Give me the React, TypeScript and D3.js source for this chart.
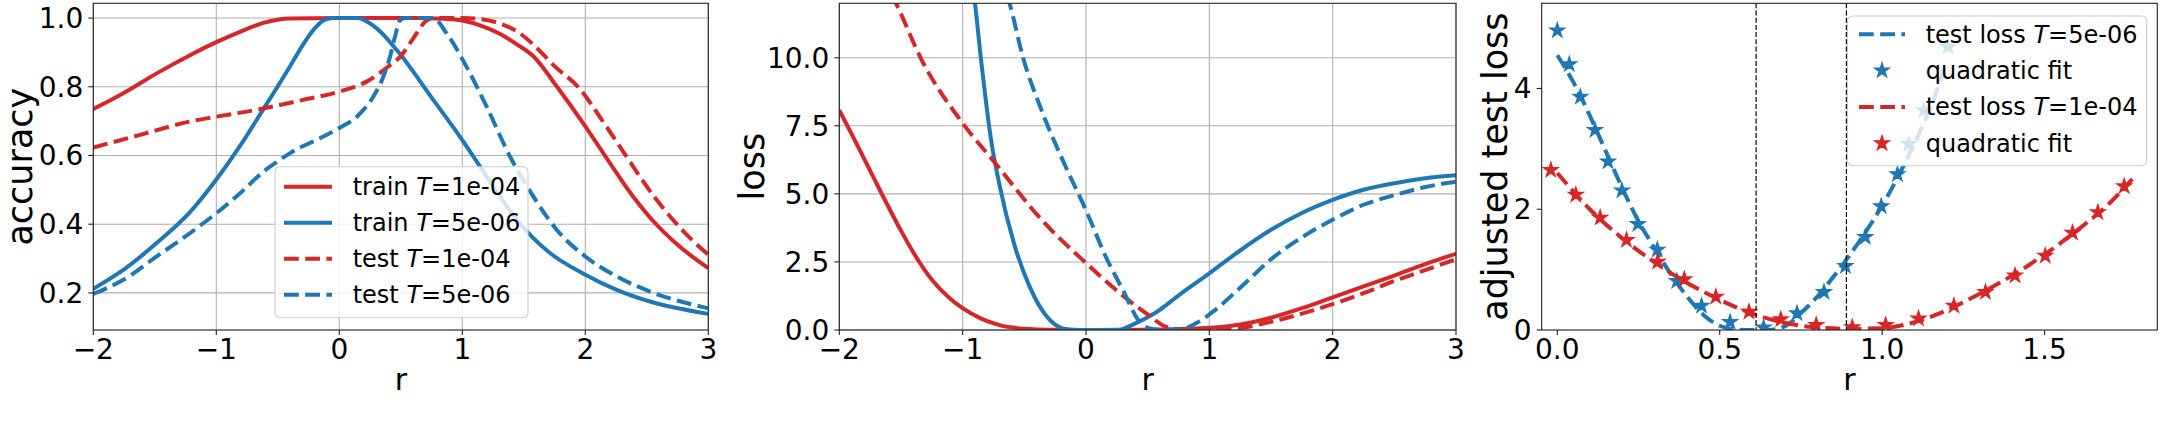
import React from "react";
import * as d3 from "d3";

const RED = "#d62728";
const BLUE = "#1f77b4";
const FONT = "'DejaVu Sans', sans-serif";

// ---------- Panel 1: accuracy vs r ----------
const accTrainHiT_x = [-2, -1.756, -1.485, -1.214, -1, -0.807, -0.617, -0.4, 0, 0.6, 0.85, 1.0, 1.15, 1.3, 1.45, 1.58, 1.77, 2.0, 2.15, 2.39, 2.55, 2.75, 3];
const accTrainHiT_y = [0.735, 0.781, 0.839, 0.892, 0.93, 0.96, 0.986, 0.999, 1, 1, 0.998, 0.993, 0.978, 0.955, 0.922, 0.888, 0.8, 0.685, 0.605, 0.48, 0.41, 0.34, 0.272];

const accTrainLoT_x = [-2, -1.756, -1.485, -1.214, -1, -0.807, -0.617, -0.4, -0.3, -0.2, -0.12, -0.05, 0, 0.142, 0.304, 0.467, 0.764, 1.0, 1.198, 1.442, 1.713, 2.0, 2.255, 2.526, 3];
const accTrainLoT_y = [0.212, 0.267, 0.345, 0.435, 0.53, 0.628, 0.735, 0.86, 0.92, 0.97, 0.995, 1, 1, 1, 0.97, 0.907, 0.762, 0.645, 0.539, 0.413, 0.316, 0.253, 0.209, 0.175, 0.139];

const accTestHiT_x = [-2, -1.62, -1.214, -1, -0.672, -0.293, 0, 0.222, 0.412, 0.494, 0.6, 0.7, 0.76, 1.0, 1.17, 1.3, 1.45, 1.6, 1.75, 1.94, 2.17, 2.32, 2.56, 2.72, 2.85, 3];
const accTestHiT_y = [0.623, 0.66, 0.699, 0.713, 0.733, 0.762, 0.786, 0.815, 0.863, 0.887, 0.94, 0.99, 1, 1, 0.996, 0.985, 0.96, 0.915, 0.86, 0.8, 0.685, 0.605, 0.48, 0.41, 0.36, 0.311];

const accTestLoT_x = [-2, -1.756, -1.485, -1.214, -1, -0.807, -0.617, -0.5, -0.4, -0.13, 0, 0.142, 0.276, 0.358, 0.412, 0.453, 0.494, 0.54, 0.764, 0.873, 1.035, 1.198, 1.388, 1.577, 1.767, 2.0, 2.255, 2.526, 3];
const accTestLoT_y = [0.197, 0.238, 0.306, 0.374, 0.432, 0.49, 0.553, 0.583, 0.607, 0.655, 0.68, 0.713, 0.771, 0.829, 0.887, 0.946, 0.994, 1, 1, 0.955, 0.858, 0.742, 0.597, 0.481, 0.384, 0.306, 0.248, 0.204, 0.155];

// ---------- Panel 2: loss vs r ----------
const lossTrainHiT_x = [-2, -1.9, -1.75, -1.65, -1.5, -1.4, -1.25, -1.1, -1.0, -0.85, -0.7, -0.5, -0.25, 0, 0.5, 1, 1.25, 1.5, 1.75, 2, 2.25, 2.5, 2.75, 3];
const lossTrainHiT_y = [8.07, 7.2, 5.85, 4.95, 3.65, 2.85, 1.85, 1.15, 0.8, 0.42, 0.18, 0.05, 0.01, 0, 0.01, 0.08, 0.2, 0.45, 0.8, 1.2, 1.6, 2.0, 2.42, 2.8];

const lossTrainLoT_x = [-1.0, -0.9, -0.85, -0.77, -0.7, -0.585, -0.47, -0.36, -0.25, -0.14, 0, 0.27, 0.38, 0.57, 0.76, 1, 1.25, 1.5, 1.75, 2, 2.25, 2.5, 2.75, 3];
const lossTrainLoT_y = [15, 12, 9.9, 7.0, 5.3, 3.2, 1.73, 0.76, 0.2, 0.02, 0, 0.01, 0.2, 0.65, 1.3, 2.08, 2.92, 3.68, 4.3, 4.78, 5.15, 5.39, 5.57, 5.68];

const lossTestHiT_x = [-2, -1.75, -1.54, -1.33, -1, -0.73, -0.36, 0, 0.27, 0.5, 0.66, 0.8, 1, 1.25, 1.5, 1.75, 2, 2.25, 2.5, 2.75, 3];
const lossTestHiT_y = [15.7, 13.8, 12, 9.9, 7.6, 6.1, 4.05, 2.46, 1.37, 0.57, 0.1, 0.02, 0.02, 0.08, 0.3, 0.6, 0.95, 1.35, 1.8, 2.2, 2.6];

const lossTestLoT_x = [-0.7, -0.62, -0.51, -0.36, -0.175, 0, 0.16, 0.31, 0.42, 0.5, 0.6, 0.76, 0.9, 1, 1.25, 1.5, 1.75, 2, 2.25, 2.5, 2.75, 3];
const lossTestLoT_y = [13, 12, 10, 8.07, 6.1, 4.4, 2.7, 1.37, 0.39, 0.08, 0.01, 0.02, 0.27, 0.57, 1.55, 2.6, 3.4, 4.05, 4.6, 4.95, 5.25, 5.45];

// ---------- Panel 3: adjusted test loss ----------
const adjLoT_x = [0, 0.05, 0.1, 0.15, 0.2, 0.25, 0.3, 0.35, 0.4, 0.45, 0.5, 0.55, 0.6, 0.65, 0.7, 0.75, 0.8, 0.85, 0.9, 0.95, 1.0, 1.05, 1.1, 1.15, 1.2];
const adjLoT_y = [4.55, 4.1, 3.55, 2.95, 2.35, 1.8, 1.35, 0.92, 0.55, 0.25, 0.07, 0.01, 0, 0, 0.06, 0.28, 0.55, 0.88, 1.24, 1.63, 2.06, 2.55, 3.1, 3.7, 4.45];
const fitLoT_x = [0, 0.037, 0.071, 0.116, 0.156, 0.199, 0.248, 0.308, 0.368, 0.444, 0.532, 0.635, 0.738, 0.821, 0.887, 0.948, 0.997, 1.047, 1.082, 1.128, 1.203];
const fitLoT_y = [4.96, 4.4, 3.86, 3.31, 2.79, 2.31, 1.755, 1.33, 0.81, 0.4, 0.13, 0.04, 0.275, 0.63, 1.06, 1.54, 2.05, 2.58, 3.08, 3.64, 4.69];

const adjHiT_x = [0, 0.1, 0.2, 0.3, 0.4, 0.5, 0.6, 0.7, 0.8, 0.9, 1.0, 1.1, 1.2, 1.3, 1.4, 1.5, 1.6, 1.7, 1.77];
const adjHiT_y = [2.6, 2.0, 1.52, 1.12, 0.78, 0.5, 0.27, 0.12, 0.04, 0.02, 0.03, 0.13, 0.33, 0.6, 0.9, 1.25, 1.65, 2.1, 2.5];
const fitHiT_x = [-0.02, 0.057, 0.132, 0.213, 0.309, 0.391, 0.488, 0.59, 0.688, 0.797, 0.908, 1.011, 1.112, 1.221, 1.318, 1.409, 1.502, 1.586, 1.664, 1.745];
const fitHiT_y = [2.65, 2.24, 1.86, 1.49, 1.13, 0.84, 0.55, 0.3, 0.176, 0.083, 0.044, 0.083, 0.19, 0.4, 0.63, 0.9, 1.23, 1.61, 1.95, 2.38];

const vLines = [0.612, 0.89];

const rTicks = [-2, -1, 0, 1, 2, 3];
const accTicks = [0.2, 0.4, 0.6, 0.8, 1.0];
const lossTicks = [0, 2.5, 5, 7.5, 10];
const adjXTicks = [0, 0.5, 1.0, 1.5];
const adjYTicks = [0, 2, 4];

type Scale = d3.ScaleLinear<number, number>;

const TOP = 3.3;
const BOTTOM = 330;
const TICK = 5;
const TICK_FS = 28;
const DASH = "14.8,6.4";

function path(xs: number[], ys: number[], x: Scale, y: Scale) {
  return (
    d3
      .line<number>()
      .x((_, i) => x(xs[i]))
      .y((_, i) => y(ys[i]))
      .curve(d3.curveMonotoneX)(xs) || ""
  );
}

function Curve({ xs, ys, x, y, color, dashed }: any) {
  return (
    <path
      d={path(xs, ys, x, y)}
      fill="none"
      stroke={color}
      strokeWidth={4}
      strokeDasharray={dashed ? DASH : undefined}
      strokeLinejoin="round"
    />
  );
}

const starPath = d3.symbol(d3.symbolStar, 64)() || "";

function Star({ cx, cy, color }: any) {
  return (
    <path d={starPath} transform={`translate(${cx},${cy})`} fill={color} stroke={color} strokeWidth={1.4} strokeLinejoin="miter" />
  );
}

function Stars({ xs, ys, x, y, color }: any) {
  return (
    <g>
      {xs.map((v: number, i: number) => (
        <Star key={i} cx={x(v)} cy={y(ys[i])} color={color} />
      ))}
    </g>
  );
}

function Panel({
  id,
  left,
  right,
  xDomain,
  yDomain,
  xTicks,
  yTicks,
  fmtX,
  fmtY,
  grid,
  ylabel,
  ylabelOffset,
  render,
}: any) {
  const x = d3.scaleLinear().domain(xDomain).range([left, right]);
  const y = d3.scaleLinear().domain(yDomain).range([BOTTOM, TOP]);
  const cx = (left + right) / 2;
  const cy = (TOP + BOTTOM) / 2;
  return (
    <g>
      <defs>
        <clipPath id={id}>
          <rect x={left} y={TOP} width={right - left} height={BOTTOM - TOP} />
        </clipPath>
      </defs>
      {grid && (
        <g stroke="#b0b0b0" strokeWidth={1.1}>
          {xTicks.map((t: number) => (
            <line key={"gx" + t} x1={x(t)} x2={x(t)} y1={TOP} y2={BOTTOM} />
          ))}
          {yTicks.map((t: number) => (
            <line key={"gy" + t} x1={left} x2={right} y1={y(t)} y2={y(t)} />
          ))}
        </g>
      )}
      <g clipPath={`url(#${id})`}>{render(x, y)}</g>
      <rect x={left} y={TOP} width={right - left} height={BOTTOM - TOP} fill="none" stroke="#222" strokeWidth={1.1} />
      <g fontFamily={FONT} fontSize={TICK_FS} fill="#000">
        {xTicks.map((t: number) => (
          <g key={"tx" + t}>
            <line x1={x(t)} x2={x(t)} y1={BOTTOM} y2={BOTTOM + TICK} stroke="#222" strokeWidth={1.1} />
            <text x={x(t)} y={359} textAnchor="middle">
              {fmtX(t)}
            </text>
          </g>
        ))}
        {yTicks.map((t: number) => (
          <g key={"ty" + t}>
            <line x1={left - TICK} x2={left} y1={y(t)} y2={y(t)} stroke="#222" strokeWidth={1.1} />
            <text x={left - TICK - 5} y={y(t) + 10} textAnchor="end">
              {fmtY(t)}
            </text>
          </g>
        ))}
      </g>
      <text x={cx} y={390} textAnchor="middle" fontFamily={FONT} fontSize={30}>
        r
      </text>
      <text
        transform={`translate(${left - ylabelOffset},${cy}) rotate(-90)`}
        textAnchor="middle"
        fontFamily={FONT}
        fontSize={35}
      >
        {ylabel}
      </text>
    </g>
  );
}

function LegendLabel({ pre, post, x, y }: any) {
  return (
    <text x={x} y={y + 8.5} fontFamily={FONT} fontSize={24}>
      {pre}
      <tspan fontStyle="italic">T</tspan>
      {post}
    </text>
  );
}

export default function App() {
  const fmtInt = d3.format("d");
  const fmt1 = d3.format(".1f");
  return (
    <div style={{ position: "absolute", left: 0, top: 0 }}>
      <svg width={2160} height={432} style={{ display: "block", background: "#fff" }}>
        <Panel
          id="c1"
          left={93.3}
          right={708.3}
          xDomain={[-2, 3]}
          yDomain={[0.092, 1.043]}
          xTicks={rTicks}
          yTicks={accTicks}
          fmtX={fmtInt}
          fmtY={fmt1}
          grid
          ylabel="accuracy"
          ylabelOffset={61.3}
          render={(x: Scale, y: Scale) => (
            <g>
              <Curve xs={accTrainHiT_x} ys={accTrainHiT_y} x={x} y={y} color={RED} />
              <Curve xs={accTrainLoT_x} ys={accTrainLoT_y} x={x} y={y} color={BLUE} />
              <Curve xs={accTestHiT_x} ys={accTestHiT_y} x={x} y={y} color={RED} dashed />
              <Curve xs={accTestLoT_x} ys={accTestLoT_y} x={x} y={y} color={BLUE} dashed />
            </g>
          )}
        />
        {/* legend panel 1 */}
        <g>
          <rect x={275} y={166.7} width={253} height={151} rx={5} fill="#fff" fillOpacity={0.8} stroke="#cccccc" strokeWidth={1.1} />
          {[
            { c: RED, d: false, pre: "train ", post: "=1e-04" },
            { c: BLUE, d: false, pre: "train ", post: "=5e-06" },
            { c: RED, d: true, pre: "test ", post: "=1e-04" },
            { c: BLUE, d: true, pre: "test ", post: "=5e-06" },
          ].map((e, i) => {
            const yy = 186.7 + i * 36;
            return (
              <g key={i}>
                <line x1={284} x2={332} y1={yy} y2={yy} stroke={e.c} strokeWidth={4} strokeDasharray={e.d ? DASH : undefined} />
                <LegendLabel pre={e.pre} post={e.post} x={352.7} y={yy} />
              </g>
            );
          })}
        </g>

        <Panel
          id="c2"
          left={839.3}
          right={1456}
          xDomain={[-2, 3]}
          yDomain={[0, 12]}
          xTicks={rTicks}
          yTicks={lossTicks}
          fmtX={fmtInt}
          fmtY={fmt1}
          grid
          ylabel="loss"
          ylabelOffset={75.8}
          render={(x: Scale, y: Scale) => (
            <g>
              <Curve xs={lossTrainHiT_x} ys={lossTrainHiT_y} x={x} y={y} color={RED} />
              <Curve xs={lossTrainLoT_x} ys={lossTrainLoT_y} x={x} y={y} color={BLUE} />
              <Curve xs={lossTestHiT_x} ys={lossTestHiT_y} x={x} y={y} color={RED} dashed />
              <Curve xs={lossTestLoT_x} ys={lossTestLoT_y} x={x} y={y} color={BLUE} dashed />
            </g>
          )}
        />

        <Panel
          id="c3"
          left={1541.7}
          right={2157.3}
          xDomain={[-0.048, 1.847]}
          yDomain={[0, 5.41]}
          xTicks={adjXTicks}
          yTicks={adjYTicks}
          fmtX={fmt1}
          fmtY={fmtInt}
          grid={false}
          ylabel="adjusted test loss"
          ylabelOffset={35}
          render={(x: Scale, y: Scale) => (
            <g>
              <Curve xs={adjLoT_x} ys={adjLoT_y} x={x} y={y} color={BLUE} dashed />
              <Stars xs={fitLoT_x} ys={fitLoT_y} x={x} y={y} color={BLUE} />
              <Curve xs={adjHiT_x} ys={adjHiT_y} x={x} y={y} color={RED} dashed />
              <Stars xs={fitHiT_x} ys={fitHiT_y} x={x} y={y} color={RED} />
              {vLines.map((v) => (
                <line key={v} x1={x(v)} x2={x(v)} y1={TOP} y2={BOTTOM} stroke="#000" strokeWidth={1.2} strokeDasharray="5,2.2" />
              ))}
            </g>
          )}
        />
        {/* legend panel 3 */}
        <g>
          <rect x={1847.5} y={16} width={299.2} height={149.7} rx={5} fill="#fff" fillOpacity={0.8} stroke="#cccccc" strokeWidth={1.1} />
          {[
            { c: BLUE, kind: "line", pre: "test loss ", post: "=5e-06" },
            { c: BLUE, kind: "star", pre: "quadratic fit", post: "" },
            { c: RED, kind: "line", pre: "test loss ", post: "=1e-04" },
            { c: RED, kind: "star", pre: "quadratic fit", post: "" },
          ].map((e, i) => {
            const yy = 34.3 + i * 36.3;
            return (
              <g key={i}>
                {e.kind === "line" ? (
                  <line x1={1859} x2={1905} y1={yy} y2={yy} stroke={e.c} strokeWidth={4} strokeDasharray={DASH} />
                ) : (
                  <Star cx={1882} cy={yy} color={e.c} />
                )}
                {e.kind === "line" ? (
                  <LegendLabel pre={e.pre} post={e.post} x={1925.7} y={yy} />
                ) : (
                  <text x={1925.7} y={yy + 8.5} fontFamily={FONT} fontSize={24}>
                    {e.pre}
                  </text>
                )}
              </g>
            );
          })}
        </g>
      </svg>
    </div>
  );
}
